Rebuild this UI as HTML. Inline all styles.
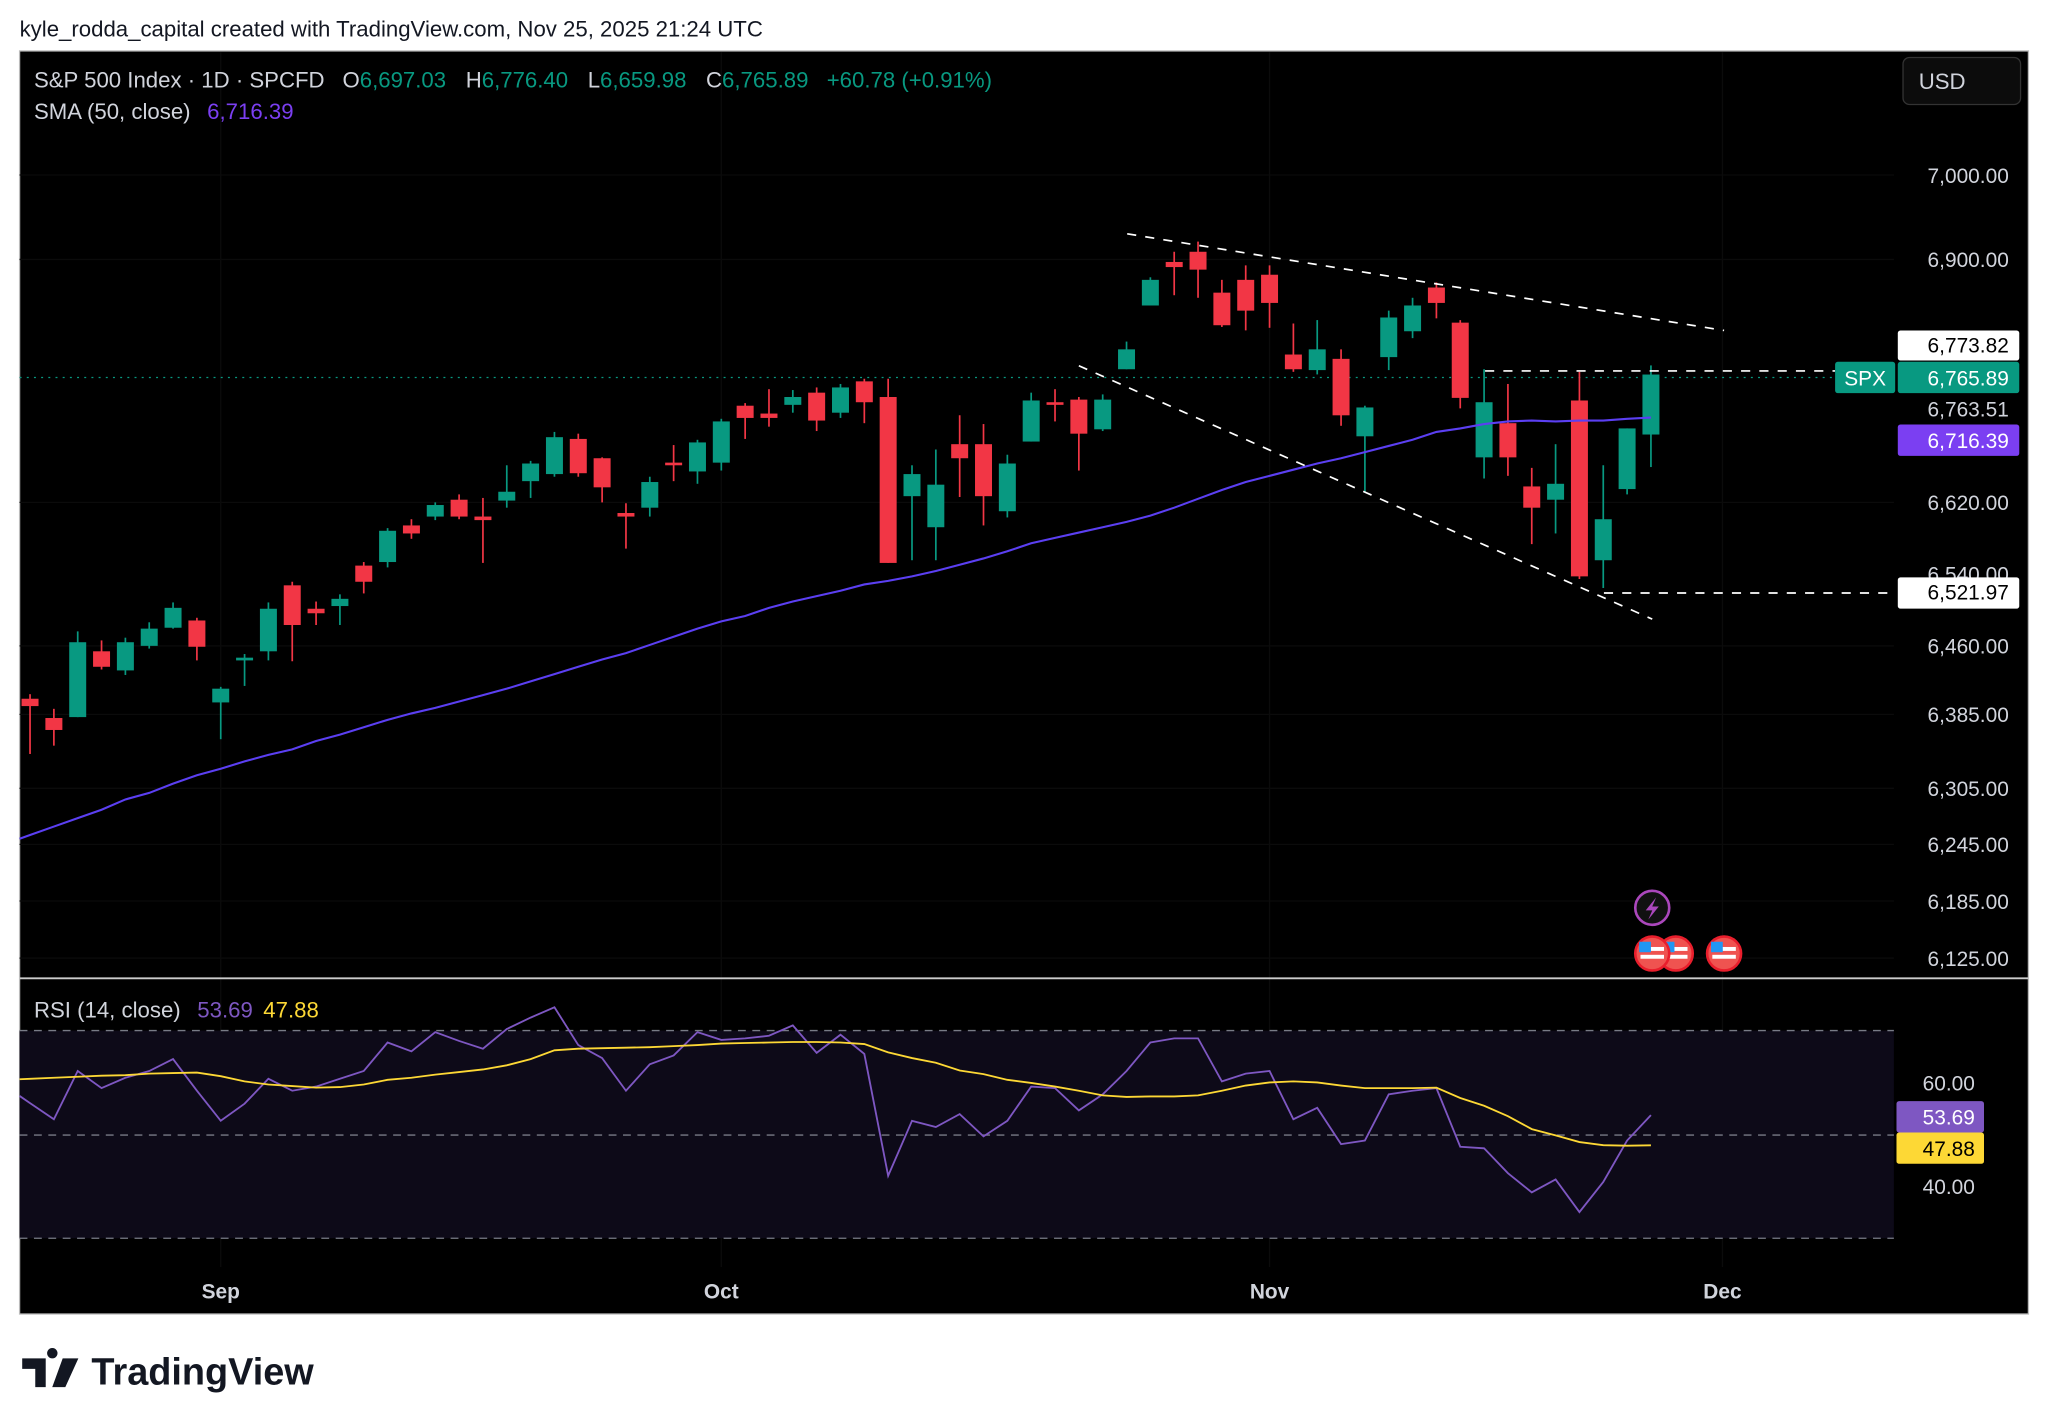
<!DOCTYPE html>
<html><head><meta charset="utf-8"><style>
html,body{margin:0;padding:0;background:#fff;width:2048px;height:1427px;overflow:hidden}
svg{display:block}
text{font-family:"Liberation Sans",sans-serif}
</style></head><body>
<svg id="c" width="2048" height="1427" viewBox="0 0 1568 1092.5" preserveAspectRatio="none" xmlns="http://www.w3.org/2000/svg">
<rect x="0" y="0" width="1568" height="1093" fill="#fff"/>
<text x="15" y="28" font-size="17" fill="#131722">kyle_rodda_capital created with TradingView.com, Nov 25, 2025 21:24 UTC</text>
<rect x="15" y="39" width="1538" height="967" fill="#000" stroke="#bbb" stroke-width="1"/>
<g id="grid"></g>
<rect x="15" y="789" width="1435" height="159" fill="#0d0a18"/>
<line x1="15" x2="1450" y1="789" y2="789" stroke="#787b86" stroke-dasharray="6,5"/>
<line x1="15" x2="1450" y1="869" y2="869" stroke="#787b86" stroke-dasharray="6,5"/>
<line x1="15" x2="1450" y1="948" y2="948" stroke="#787b86" stroke-dasharray="6,5"/>
<line x1="15" x2="1450" y1="289" y2="289" stroke="#089981" stroke-dasharray="1.5,4"/>
<g id="marks"></g>
<g stroke="#fff" stroke-width="1.3" stroke-dasharray="7,7" fill="none">
<line x1="863" y1="179" x2="1320" y2="253"/>
<line x1="826" y1="280" x2="1265" y2="474"/>
<line x1="1137" y1="284" x2="1405" y2="284"/>
<line x1="1228" y1="454" x2="1450" y2="454"/>
</g>
<line x1="15" x2="1553" y1="749" y2="749" stroke="#ccc" stroke-width="1.5"/>
<g id="axis" font-size="16" fill="#d1d4dc"></g>
<g font-size="16">
<rect x="1453" y="253" width="93" height="23" rx="2" fill="#fff"/><text x="1538" y="270" text-anchor="end" fill="#000">6,773.82</text>
<rect x="1405" y="277" width="46" height="24" rx="2" fill="#089981"/><text x="1428" y="295" text-anchor="middle" fill="#fff">SPX</text>
<rect x="1453" y="277" width="93" height="24" rx="2" fill="#089981"/><text x="1538" y="295" text-anchor="end" fill="#fff">6,765.89</text>
<text x="1538" y="319" text-anchor="end" fill="#d1d4dc">6,763.51</text>
<rect x="1453" y="325" width="93" height="24" rx="2" fill="#7b3ff2"/><text x="1538" y="343" text-anchor="end" fill="#fff">6,716.39</text>
<rect x="1453" y="442" width="93" height="24" rx="2" fill="#fff"/><text x="1538" y="459" text-anchor="end" fill="#000">6,521.97</text>
<rect x="1452" y="843" width="67" height="24" rx="2" fill="#7e57c2"/><text x="1512" y="861" text-anchor="end" fill="#fff">53.69</text>
<rect x="1452" y="867" width="67" height="24" rx="2" fill="#fdd835"/><text x="1512" y="885" text-anchor="end" fill="#000">47.88</text>
</g>
<rect x="1457" y="44" width="90" height="36" rx="5" fill="#0c0c0c" stroke="#333"/>
<text x="1469" y="68" font-size="17" fill="#d1d4dc">USD</text>
<text x="26" y="67" font-size="17" fill="#d1d4dc">S&amp;P 500 Index · 1D · SPCFD <tspan dx="9">O</tspan><tspan fill="#089981">6,697.03</tspan><tspan dx="15">H</tspan><tspan fill="#089981">6,776.40</tspan><tspan dx="15">L</tspan><tspan fill="#089981">6,659.98</tspan><tspan dx="15">C</tspan><tspan fill="#089981">6,765.89</tspan><tspan dx="14" fill="#089981">+60.78 (+0.91%)</tspan></text>
<text x="26" y="91" font-size="17" fill="#d1d4dc">SMA (50, close) <tspan dx="8" fill="#7b3ff2">6,716.39</tspan></text>
<text x="26" y="779" font-size="17" fill="#d1d4dc">RSI (14, close) <tspan dx="8" fill="#7e57c2">53.69</tspan><tspan dx="8" fill="#fdd835">47.88</tspan></text>
<g>
<circle cx="1265" cy="695" r="13" fill="#111" stroke="#ab47bc" stroke-width="2"/>
<path d="M1268 687 L1260 697 L1265 697 L1262 704 L1270 694 L1265 694 Z" fill="#ab47bc"/>
<circle cx="1283" cy="730" r="13" fill="#ef5350" stroke="#e91e2c" stroke-width="2"/>
<rect x="1274" y="725" width="18" height="3" fill="#fff"/><rect x="1274" y="731" width="18" height="3" fill="#fff"/><rect x="1273" y="721" width="9" height="8" fill="#2196f3"/>
<circle cx="1265" cy="730" r="13" fill="#ef5350" stroke="#e91e2c" stroke-width="2"/>
<rect x="1256" y="725" width="18" height="3" fill="#fff"/><rect x="1256" y="731" width="18" height="3" fill="#fff"/><rect x="1255" y="721" width="9" height="8" fill="#2196f3"/>
<circle cx="1320" cy="730" r="13" fill="#ef5350" stroke="#e91e2c" stroke-width="2"/>
<rect x="1311" y="725" width="18" height="3" fill="#fff"/><rect x="1311" y="731" width="18" height="3" fill="#fff"/><rect x="1310" y="721" width="9" height="8" fill="#2196f3"/>
</g>
<text x="70" y="1060" font-size="29" font-weight="bold" fill="#131722">TradingView</text>
<path d="M17 1040 H35 V1062 H27 V1048 H17 Z M40 1040 a4 4 0 1 1 0.1 0 Z M48 1040 H60 L50 1062 H40 Z" fill="#131722"/>
</svg>
<script>
const opens=[6402,6381,6382,6454,6433,6460,6480,6488,6398,6444,6454,6527,6501,6504,6549,6553,6594,6604,6623,6604,6622,6644,6652,6692,6670,6608,6614,6665,6655,6665,6730,6721,6731,6745,6722,6758,6740,6627,6592,6686,6686,6610,6689,6734,6737,6703,6772,6846,6897,6909,6861,6876,6882,6789,6771,6784,6695,6786,6816,6867,6826,6671,6710,6638,6623,6736,6555,6635,6697.03];
const highs=[6407,6391,6476,6466,6469,6486,6508,6491,6415,6451,6508,6531,6509,6517,6553,6591,6601,6620,6629,6625,6662,6667,6700,6698,6671,6619,6649,6685,6691,6715,6733,6749,6748,6751,6755,6761,6761,6662,6680,6719,6709,6674,6745,6749,6740,6743,6804,6879,6909,6921,6876,6893,6893,6825,6829,6795,6730,6840,6855,6873,6829,6772,6755,6659,6686,6769,6662,6704,6776.40];
const lows=[6342,6351,6382,6434,6428,6457,6479,6444,6358,6416,6444,6443,6483,6483,6518,6547,6579,6600,6601,6552,6614,6625,6649,6649,6620,6568,6604,6644,6641,6656,6692,6706,6722,6701,6716,6710,6552,6555,6555,6626,6594,6603,6689,6712,6656,6701,6772,6846,6858,6855,6821,6817,6820,6769,6766,6707,6632,6771,6808,6831,6727,6647,6650,6573,6585,6534,6524,6629,6659.98];
const closes=[6394,6368,6464,6437,6464,6479,6502,6459,6413,6447,6501,6483,6496,6512,6531,6588,6585,6617,6604,6600,6632,6664,6694,6653,6637,6604,6643,6662,6688,6712,6716,6716,6740,6713,6751,6734,6552,6652,6640,6670,6627,6664,6736,6731,6698,6737,6795,6876,6891,6888,6823,6840,6849,6772,6795,6719,6728,6832,6846,6849,6739,6734,6671,6614,6641,6537,6601,6704,6765.89];
const sma50=[6255,6264,6273,6282,6293,6300,6310,6319,6326,6334,6341,6347,6356,6363,6371,6379,6386,6392,6399,6406,6413,6421,6429,6437,6445,6452,6461,6470,6479,6487,6493,6502,6509,6515,6521,6528,6532,6537,6543,6550,6557,6565,6574,6580,6586,6592,6598,6605,6614,6624,6634,6643,6650,6657,6664,6670,6677,6684,6691,6700,6704,6709,6712,6713,6712,6713,6713,6715,6716.39];
const rsi=[56,52.9,62.2,58.9,60.9,62.2,64.5,58.4,52.6,55.9,60.7,58.4,59.2,60.7,62.2,67.7,66.0,69.7,68.0,66.5,70.3,72.5,74.5,67.2,64.7,58.4,63.5,65.2,69.7,68.2,68.5,69.0,71.0,65.7,69.2,65.5,42.0,52.6,51.4,53.9,49.6,52.6,59.2,58.9,54.6,57.7,62.2,67.7,68.5,68.5,60.2,61.7,62.2,52.9,55.1,48.1,48.8,57.7,58.4,58.9,47.6,47.3,42.5,38.8,41.3,35.0,40.8,48.8,53.69];
const rsiMa=[60.7,60.9,61.1,61.3,61.4,61.7,61.8,61.9,61.2,60.2,59.6,59.3,59.0,59.1,59.6,60.5,60.9,61.5,62.0,62.5,63.3,64.5,66.2,66.5,66.6,66.7,66.8,67.0,67.2,67.5,67.6,67.7,67.8,67.8,67.7,67.4,65.8,64.7,63.8,62.3,61.6,60.5,59.9,59.2,58.4,57.5,57.2,57.3,57.3,57.5,58.4,59.4,60.0,60.2,60.0,59.4,58.9,58.9,58.9,59.0,57.0,55.5,53.5,51.0,49.8,48.5,47.9,47.8,47.88];
const priceTicks=[7000,6900,6620,6460,6385,6305,6245,6185,6125];
const rsiTicks=[60,40];
const monthLabels=["Sep","Oct","Nov","Dec"];
const monthIdx=[8,29,52,71];

const NS="http://www.w3.org/2000/svg";
const X=i=>23+18.25*i;
const Y=p=>134+4490*Math.log(7000/p);
const RY=v=>789+(70-v)*3.97;
function mk(tag,attrs,parent){const e=document.createElementNS(NS,tag);for(const k in attrs)e.setAttribute(k,attrs[k]);parent.appendChild(e);return e;}
const marks=document.getElementById('marks'),axis=document.getElementById('axis'),grid=document.getElementById('grid');
priceTicks.forEach(p=>{
  const g=mk('line',{x1:15,x2:1450,y1:Y(p),y2:Y(p),stroke:'#0b0b0b'},grid);
  
  
  const t=mk('text',{x:1538,y:Y(p)+6,'text-anchor':'end'},axis);
  
  
  t.textContent=p.toLocaleString('en-US',{minimumFractionDigits:2});
});
const t6540=mk('text',{x:1538,y:Y(6540)+6,'text-anchor':'end'},axis);t6540.textContent='6,540.00';


rsiTicks.forEach(v=>{
  const t=mk('text',{x:1512,y:RY(v)+6,'text-anchor':'end'},axis);
  
  
  t.textContent=v.toFixed(2);
});
monthLabels.forEach((m,k)=>{
  const x=23+18.25*monthIdx[k];
  const gl=mk('line',{x1:x,x2:x,y1:40,y2:970,stroke:'#0b0b0b'},grid);
  
  
  const t=mk('text',{x:x,y:994,'text-anchor':'middle','font-weight':'bold'},axis);
  
  
  t.textContent=m;
});
opens.forEach((o,i)=>{
  const c=closes[i],up=c>=o,col=up?'#089981':'#f23645',x=X(i);
  const g=mk('g',{},marks);
  
  
  mk('line',{x1:x,x2:x,y1:Y(highs[i]),y2:Y(lows[i]),stroke:col,'stroke-width':1.3},g);
  const t=Y(Math.max(o,c)),b=Y(Math.min(o,c));
  mk('rect',{x:x-6.5,y:t,width:13,height:Math.max(1.5,b-t),fill:col},g);
});
function pts(arr,fy){return '15,'+fy(arr[0]-(arr[1]-arr[0])*0.45)+' '+arr.map((v,i)=>X(i)+','+fy(v)).join(' ');}
const sp=mk('polyline',{points:pts(sma50,Y),fill:'none',stroke:'#5b3ff2','stroke-width':1.6},marks);


const rl=mk('polyline',{points:pts(rsi,RY),fill:'none',stroke:'#7e57c2','stroke-width':1.4},marks);


const rm=mk('polyline',{points:pts(rsiMa,RY),fill:'none',stroke:'#fdd835','stroke-width':1.4},marks);


</script>
</body></html>
